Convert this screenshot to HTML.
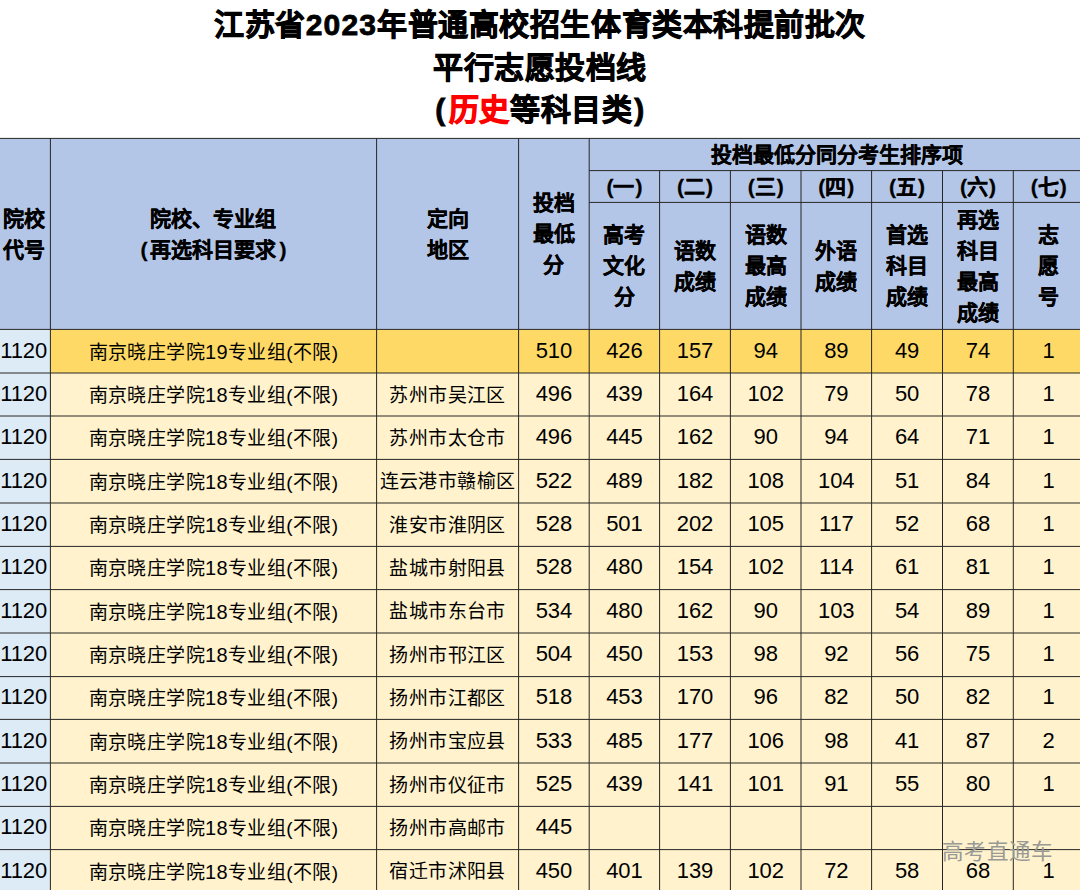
<!DOCTYPE html>
<html lang="zh-CN"><head><meta charset="utf-8">
<style>
html,body{margin:0;padding:0;}
body{width:1080px;height:890px;overflow:hidden;position:relative;background:#fff;font-family:"Liberation Sans",sans-serif;color:#000;}
svg.g{position:absolute;left:0;top:0;}
.t{position:absolute;left:0;width:1080px;text-align:center;font-weight:bold;-webkit-text-stroke:0.8px currentColor;font-size:30px;letter-spacing:0.55px;line-height:42px;white-space:nowrap;}
.h,.d{position:absolute;display:flex;align-items:center;justify-content:center;text-align:center;white-space:nowrap;}
.h{font-weight:bold;-webkit-text-stroke:0.3px currentColor;font-size:21px;line-height:31px;}
.d{font-size:19px;letter-spacing:0.4px;line-height:24px;}
.d{box-sizing:border-box;padding-top:2px;}
.n{font-size:22px;letter-spacing:-0.1px;padding-top:0;padding-bottom:1px;}
.dg{font-size:20px;}
.r{color:#FF0000;-webkit-text-stroke:1px #FF0000;}
.wm{position:absolute;left:942px;top:838px;font-size:21.5px;letter-spacing:0.3px;line-height:28px;color:#999996;white-space:nowrap;}
</style></head><body>
<svg class="g" width="1080" height="890" viewBox="0 0 1080 890"><rect x="-3" y="138.4" width="1090" height="190.99999999999997" fill="#B4C6E7"/><rect x="-3" y="329.4" width="53.4" height="43.60000000000002" fill="#DDEBF7"/><rect x="50.4" y="329.4" width="1039.6" height="43.60000000000002" fill="#FFD966"/><rect x="-3" y="373" width="53.4" height="43" fill="#DDEBF7"/><rect x="50.4" y="373" width="1039.6" height="43" fill="#FFF2CC"/><rect x="-3" y="416" width="53.4" height="43.39999999999998" fill="#DDEBF7"/><rect x="50.4" y="416" width="1039.6" height="43.39999999999998" fill="#FFF2CC"/><rect x="-3" y="459.4" width="53.4" height="43.60000000000002" fill="#DDEBF7"/><rect x="50.4" y="459.4" width="1039.6" height="43.60000000000002" fill="#FFF2CC"/><rect x="-3" y="503" width="53.4" height="43.39999999999998" fill="#DDEBF7"/><rect x="50.4" y="503" width="1039.6" height="43.39999999999998" fill="#FFF2CC"/><rect x="-3" y="546.4" width="53.4" height="43.200000000000045" fill="#DDEBF7"/><rect x="50.4" y="546.4" width="1039.6" height="43.200000000000045" fill="#FFF2CC"/><rect x="-3" y="589.6" width="53.4" height="43.39999999999998" fill="#DDEBF7"/><rect x="50.4" y="589.6" width="1039.6" height="43.39999999999998" fill="#FFF2CC"/><rect x="-3" y="633" width="53.4" height="43.60000000000002" fill="#DDEBF7"/><rect x="50.4" y="633" width="1039.6" height="43.60000000000002" fill="#FFF2CC"/><rect x="-3" y="676.6" width="53.4" height="42.799999999999955" fill="#DDEBF7"/><rect x="50.4" y="676.6" width="1039.6" height="42.799999999999955" fill="#FFF2CC"/><rect x="-3" y="719.4" width="53.4" height="43.60000000000002" fill="#DDEBF7"/><rect x="50.4" y="719.4" width="1039.6" height="43.60000000000002" fill="#FFF2CC"/><rect x="-3" y="763" width="53.4" height="43.39999999999998" fill="#DDEBF7"/><rect x="50.4" y="763" width="1039.6" height="43.39999999999998" fill="#FFF2CC"/><rect x="-3" y="806.4" width="53.4" height="43.200000000000045" fill="#DDEBF7"/><rect x="50.4" y="806.4" width="1039.6" height="43.200000000000045" fill="#FFF2CC"/><rect x="-3" y="849.6" width="53.4" height="43.39999999999998" fill="#DDEBF7"/><rect x="50.4" y="849.6" width="1039.6" height="43.39999999999998" fill="#FFF2CC"/><g stroke="#262626" stroke-width="1"><line x1="-3" y1="138.4" x2="1090" y2="138.4"/><line x1="589.2" y1="170.6" x2="1090" y2="170.6"/><line x1="589.2" y1="202.4" x2="1090" y2="202.4"/><line x1="-3" y1="329.4" x2="1090" y2="329.4"/><line x1="-3" y1="373" x2="1090" y2="373"/><line x1="-3" y1="416" x2="1090" y2="416"/><line x1="-3" y1="459.4" x2="1090" y2="459.4"/><line x1="-3" y1="503" x2="1090" y2="503"/><line x1="-3" y1="546.4" x2="1090" y2="546.4"/><line x1="-3" y1="589.6" x2="1090" y2="589.6"/><line x1="-3" y1="633" x2="1090" y2="633"/><line x1="-3" y1="676.6" x2="1090" y2="676.6"/><line x1="-3" y1="719.4" x2="1090" y2="719.4"/><line x1="-3" y1="763" x2="1090" y2="763"/><line x1="-3" y1="806.4" x2="1090" y2="806.4"/><line x1="-3" y1="849.6" x2="1090" y2="849.6"/><line x1="50.4" y1="138.4" x2="50.4" y2="893"/><line x1="376.6" y1="138.4" x2="376.6" y2="893"/><line x1="518.6" y1="138.4" x2="518.6" y2="893"/><line x1="589.2" y1="138.4" x2="589.2" y2="893"/><line x1="659.6" y1="170.6" x2="659.6" y2="893"/><line x1="730.4" y1="170.6" x2="730.4" y2="893"/><line x1="801" y1="170.6" x2="801" y2="893"/><line x1="871.6" y1="170.6" x2="871.6" y2="893"/><line x1="942.5" y1="170.6" x2="942.5" y2="893"/><line x1="1013.3" y1="170.6" x2="1013.3" y2="893"/></g></svg>
<div class="t" style="top:4px">江苏省<span style="letter-spacing:1.2px">2023</span>年普通高校招生体育类本科提前批次</div>
<div class="t" style="top:47px">平行志愿投档线</div>
<div class="t" style="top:89px"><span style="margin-right:3px">(</span><span class="r">历史</span>等科目类<span style="margin-left:2px">)</span></div>
<div class="h" style="left:-3.0px;top:138.4px;width:53.4px;height:191.0px"><div>院校<br>代号</div></div><div class="h" style="left:50.4px;top:138.4px;width:326.2px;height:191.0px"><div>院校、专业组<br><span style="margin-right:3px">(</span>再选科目要求<span style="margin-left:3px">)</span></div></div><div class="h" style="left:376.6px;top:138.4px;width:142.0px;height:191.0px"><div>定向<br>地区</div></div><div class="h" style="left:518.6px;top:138.4px;width:70.6px;height:191.0px"><div>投档<br>最低<br>分</div></div><div class="h" style="left:589.2px;top:138.4px;width:494.8px;height:32.2px"><div>投档最低分同分考生排序项</div></div><div class="h" style="left:589.2px;top:170.6px;width:70.4px;height:31.8px"><div>(<span style="margin-right:1px">一</span>)</div></div><div class="h" style="left:589.2px;top:202.4px;width:70.4px;height:127.0px"><div>高考<br>文化<br>分</div></div><div class="h" style="left:659.6px;top:170.6px;width:70.8px;height:31.8px"><div>(<span style="margin-right:1px">二</span>)</div></div><div class="h" style="left:659.6px;top:202.4px;width:70.8px;height:127.0px"><div>语数<br>成绩</div></div><div class="h" style="left:730.4px;top:170.6px;width:70.6px;height:31.8px"><div>(<span style="margin-right:1px">三</span>)</div></div><div class="h" style="left:730.4px;top:202.4px;width:70.6px;height:127.0px"><div>语数<br>最高<br>成绩</div></div><div class="h" style="left:801.0px;top:170.6px;width:70.6px;height:31.8px"><div>(<span style="margin-right:1px">四</span>)</div></div><div class="h" style="left:801.0px;top:202.4px;width:70.6px;height:127.0px"><div>外语<br>成绩</div></div><div class="h" style="left:871.6px;top:170.6px;width:70.9px;height:31.8px"><div>(<span style="margin-right:1px">五</span>)</div></div><div class="h" style="left:871.6px;top:202.4px;width:70.9px;height:127.0px"><div>首选<br>科目<br>成绩</div></div><div class="h" style="left:942.5px;top:170.6px;width:70.8px;height:31.8px"><div>(<span style="margin-right:1px">六</span>)</div></div><div class="h" style="left:942.5px;top:202.4px;width:70.8px;height:127.0px"><div>再选<br>科目<br>最高<br>成绩</div></div><div class="h" style="left:1013.3px;top:170.6px;width:70.7px;height:31.8px"><div>(<span style="margin-right:1px">七</span>)</div></div><div class="h" style="left:1013.3px;top:202.4px;width:70.7px;height:127.0px"><div>志<br>愿<br>号</div></div><div class="d n" style="left:-3.0px;top:329.4px;width:53.4px;height:43.6px"><div>1120</div></div><div class="d" style="left:50.4px;top:329.4px;width:326.2px;height:43.6px"><div>南京晓庄学院<span class=dg>19</span>专业组(不限)</div></div><div class="d" style="left:376.6px;top:329.4px;width:142.0px;height:43.6px"><div></div></div><div class="d n" style="left:518.6px;top:329.4px;width:70.6px;height:43.6px"><div>510</div></div><div class="d n" style="left:589.2px;top:329.4px;width:70.4px;height:43.6px"><div>426</div></div><div class="d n" style="left:659.6px;top:329.4px;width:70.8px;height:43.6px"><div>157</div></div><div class="d n" style="left:730.4px;top:329.4px;width:70.6px;height:43.6px"><div>94</div></div><div class="d n" style="left:801.0px;top:329.4px;width:70.6px;height:43.6px"><div>89</div></div><div class="d n" style="left:871.6px;top:329.4px;width:70.9px;height:43.6px"><div>49</div></div><div class="d n" style="left:942.5px;top:329.4px;width:70.8px;height:43.6px"><div>74</div></div><div class="d n" style="left:1013.3px;top:329.4px;width:70.7px;height:43.6px"><div>1</div></div><div class="d n" style="left:-3.0px;top:373.0px;width:53.4px;height:43.0px"><div>1120</div></div><div class="d" style="left:50.4px;top:373.0px;width:326.2px;height:43.0px"><div>南京晓庄学院<span class=dg>18</span>专业组(不限)</div></div><div class="d" style="left:376.6px;top:373.0px;width:142.0px;height:43.0px"><div>苏州市吴江区</div></div><div class="d n" style="left:518.6px;top:373.0px;width:70.6px;height:43.0px"><div>496</div></div><div class="d n" style="left:589.2px;top:373.0px;width:70.4px;height:43.0px"><div>439</div></div><div class="d n" style="left:659.6px;top:373.0px;width:70.8px;height:43.0px"><div>164</div></div><div class="d n" style="left:730.4px;top:373.0px;width:70.6px;height:43.0px"><div>102</div></div><div class="d n" style="left:801.0px;top:373.0px;width:70.6px;height:43.0px"><div>79</div></div><div class="d n" style="left:871.6px;top:373.0px;width:70.9px;height:43.0px"><div>50</div></div><div class="d n" style="left:942.5px;top:373.0px;width:70.8px;height:43.0px"><div>78</div></div><div class="d n" style="left:1013.3px;top:373.0px;width:70.7px;height:43.0px"><div>1</div></div><div class="d n" style="left:-3.0px;top:416.0px;width:53.4px;height:43.4px"><div>1120</div></div><div class="d" style="left:50.4px;top:416.0px;width:326.2px;height:43.4px"><div>南京晓庄学院<span class=dg>18</span>专业组(不限)</div></div><div class="d" style="left:376.6px;top:416.0px;width:142.0px;height:43.4px"><div>苏州市太仓市</div></div><div class="d n" style="left:518.6px;top:416.0px;width:70.6px;height:43.4px"><div>496</div></div><div class="d n" style="left:589.2px;top:416.0px;width:70.4px;height:43.4px"><div>445</div></div><div class="d n" style="left:659.6px;top:416.0px;width:70.8px;height:43.4px"><div>162</div></div><div class="d n" style="left:730.4px;top:416.0px;width:70.6px;height:43.4px"><div>90</div></div><div class="d n" style="left:801.0px;top:416.0px;width:70.6px;height:43.4px"><div>94</div></div><div class="d n" style="left:871.6px;top:416.0px;width:70.9px;height:43.4px"><div>64</div></div><div class="d n" style="left:942.5px;top:416.0px;width:70.8px;height:43.4px"><div>71</div></div><div class="d n" style="left:1013.3px;top:416.0px;width:70.7px;height:43.4px"><div>1</div></div><div class="d n" style="left:-3.0px;top:459.4px;width:53.4px;height:43.6px"><div>1120</div></div><div class="d" style="left:50.4px;top:459.4px;width:326.2px;height:43.6px"><div>南京晓庄学院<span class=dg>18</span>专业组(不限)</div></div><div class="d" style="left:376.6px;top:459.4px;width:142.0px;height:43.6px"><div>连云港市赣榆区</div></div><div class="d n" style="left:518.6px;top:459.4px;width:70.6px;height:43.6px"><div>522</div></div><div class="d n" style="left:589.2px;top:459.4px;width:70.4px;height:43.6px"><div>489</div></div><div class="d n" style="left:659.6px;top:459.4px;width:70.8px;height:43.6px"><div>182</div></div><div class="d n" style="left:730.4px;top:459.4px;width:70.6px;height:43.6px"><div>108</div></div><div class="d n" style="left:801.0px;top:459.4px;width:70.6px;height:43.6px"><div>104</div></div><div class="d n" style="left:871.6px;top:459.4px;width:70.9px;height:43.6px"><div>51</div></div><div class="d n" style="left:942.5px;top:459.4px;width:70.8px;height:43.6px"><div>84</div></div><div class="d n" style="left:1013.3px;top:459.4px;width:70.7px;height:43.6px"><div>1</div></div><div class="d n" style="left:-3.0px;top:503.0px;width:53.4px;height:43.4px"><div>1120</div></div><div class="d" style="left:50.4px;top:503.0px;width:326.2px;height:43.4px"><div>南京晓庄学院<span class=dg>18</span>专业组(不限)</div></div><div class="d" style="left:376.6px;top:503.0px;width:142.0px;height:43.4px"><div>淮安市淮阴区</div></div><div class="d n" style="left:518.6px;top:503.0px;width:70.6px;height:43.4px"><div>528</div></div><div class="d n" style="left:589.2px;top:503.0px;width:70.4px;height:43.4px"><div>501</div></div><div class="d n" style="left:659.6px;top:503.0px;width:70.8px;height:43.4px"><div>202</div></div><div class="d n" style="left:730.4px;top:503.0px;width:70.6px;height:43.4px"><div>105</div></div><div class="d n" style="left:801.0px;top:503.0px;width:70.6px;height:43.4px"><div>117</div></div><div class="d n" style="left:871.6px;top:503.0px;width:70.9px;height:43.4px"><div>52</div></div><div class="d n" style="left:942.5px;top:503.0px;width:70.8px;height:43.4px"><div>68</div></div><div class="d n" style="left:1013.3px;top:503.0px;width:70.7px;height:43.4px"><div>1</div></div><div class="d n" style="left:-3.0px;top:546.4px;width:53.4px;height:43.2px"><div>1120</div></div><div class="d" style="left:50.4px;top:546.4px;width:326.2px;height:43.2px"><div>南京晓庄学院<span class=dg>18</span>专业组(不限)</div></div><div class="d" style="left:376.6px;top:546.4px;width:142.0px;height:43.2px"><div>盐城市射阳县</div></div><div class="d n" style="left:518.6px;top:546.4px;width:70.6px;height:43.2px"><div>528</div></div><div class="d n" style="left:589.2px;top:546.4px;width:70.4px;height:43.2px"><div>480</div></div><div class="d n" style="left:659.6px;top:546.4px;width:70.8px;height:43.2px"><div>154</div></div><div class="d n" style="left:730.4px;top:546.4px;width:70.6px;height:43.2px"><div>102</div></div><div class="d n" style="left:801.0px;top:546.4px;width:70.6px;height:43.2px"><div>114</div></div><div class="d n" style="left:871.6px;top:546.4px;width:70.9px;height:43.2px"><div>61</div></div><div class="d n" style="left:942.5px;top:546.4px;width:70.8px;height:43.2px"><div>81</div></div><div class="d n" style="left:1013.3px;top:546.4px;width:70.7px;height:43.2px"><div>1</div></div><div class="d n" style="left:-3.0px;top:589.6px;width:53.4px;height:43.4px"><div>1120</div></div><div class="d" style="left:50.4px;top:589.6px;width:326.2px;height:43.4px"><div>南京晓庄学院<span class=dg>18</span>专业组(不限)</div></div><div class="d" style="left:376.6px;top:589.6px;width:142.0px;height:43.4px"><div>盐城市东台市</div></div><div class="d n" style="left:518.6px;top:589.6px;width:70.6px;height:43.4px"><div>534</div></div><div class="d n" style="left:589.2px;top:589.6px;width:70.4px;height:43.4px"><div>480</div></div><div class="d n" style="left:659.6px;top:589.6px;width:70.8px;height:43.4px"><div>162</div></div><div class="d n" style="left:730.4px;top:589.6px;width:70.6px;height:43.4px"><div>90</div></div><div class="d n" style="left:801.0px;top:589.6px;width:70.6px;height:43.4px"><div>103</div></div><div class="d n" style="left:871.6px;top:589.6px;width:70.9px;height:43.4px"><div>54</div></div><div class="d n" style="left:942.5px;top:589.6px;width:70.8px;height:43.4px"><div>89</div></div><div class="d n" style="left:1013.3px;top:589.6px;width:70.7px;height:43.4px"><div>1</div></div><div class="d n" style="left:-3.0px;top:633.0px;width:53.4px;height:43.6px"><div>1120</div></div><div class="d" style="left:50.4px;top:633.0px;width:326.2px;height:43.6px"><div>南京晓庄学院<span class=dg>18</span>专业组(不限)</div></div><div class="d" style="left:376.6px;top:633.0px;width:142.0px;height:43.6px"><div>扬州市邗江区</div></div><div class="d n" style="left:518.6px;top:633.0px;width:70.6px;height:43.6px"><div>504</div></div><div class="d n" style="left:589.2px;top:633.0px;width:70.4px;height:43.6px"><div>450</div></div><div class="d n" style="left:659.6px;top:633.0px;width:70.8px;height:43.6px"><div>153</div></div><div class="d n" style="left:730.4px;top:633.0px;width:70.6px;height:43.6px"><div>98</div></div><div class="d n" style="left:801.0px;top:633.0px;width:70.6px;height:43.6px"><div>92</div></div><div class="d n" style="left:871.6px;top:633.0px;width:70.9px;height:43.6px"><div>56</div></div><div class="d n" style="left:942.5px;top:633.0px;width:70.8px;height:43.6px"><div>75</div></div><div class="d n" style="left:1013.3px;top:633.0px;width:70.7px;height:43.6px"><div>1</div></div><div class="d n" style="left:-3.0px;top:676.6px;width:53.4px;height:42.8px"><div>1120</div></div><div class="d" style="left:50.4px;top:676.6px;width:326.2px;height:42.8px"><div>南京晓庄学院<span class=dg>18</span>专业组(不限)</div></div><div class="d" style="left:376.6px;top:676.6px;width:142.0px;height:42.8px"><div>扬州市江都区</div></div><div class="d n" style="left:518.6px;top:676.6px;width:70.6px;height:42.8px"><div>518</div></div><div class="d n" style="left:589.2px;top:676.6px;width:70.4px;height:42.8px"><div>453</div></div><div class="d n" style="left:659.6px;top:676.6px;width:70.8px;height:42.8px"><div>170</div></div><div class="d n" style="left:730.4px;top:676.6px;width:70.6px;height:42.8px"><div>96</div></div><div class="d n" style="left:801.0px;top:676.6px;width:70.6px;height:42.8px"><div>82</div></div><div class="d n" style="left:871.6px;top:676.6px;width:70.9px;height:42.8px"><div>50</div></div><div class="d n" style="left:942.5px;top:676.6px;width:70.8px;height:42.8px"><div>82</div></div><div class="d n" style="left:1013.3px;top:676.6px;width:70.7px;height:42.8px"><div>1</div></div><div class="d n" style="left:-3.0px;top:719.4px;width:53.4px;height:43.6px"><div>1120</div></div><div class="d" style="left:50.4px;top:719.4px;width:326.2px;height:43.6px"><div>南京晓庄学院<span class=dg>18</span>专业组(不限)</div></div><div class="d" style="left:376.6px;top:719.4px;width:142.0px;height:43.6px"><div>扬州市宝应县</div></div><div class="d n" style="left:518.6px;top:719.4px;width:70.6px;height:43.6px"><div>533</div></div><div class="d n" style="left:589.2px;top:719.4px;width:70.4px;height:43.6px"><div>485</div></div><div class="d n" style="left:659.6px;top:719.4px;width:70.8px;height:43.6px"><div>177</div></div><div class="d n" style="left:730.4px;top:719.4px;width:70.6px;height:43.6px"><div>106</div></div><div class="d n" style="left:801.0px;top:719.4px;width:70.6px;height:43.6px"><div>98</div></div><div class="d n" style="left:871.6px;top:719.4px;width:70.9px;height:43.6px"><div>41</div></div><div class="d n" style="left:942.5px;top:719.4px;width:70.8px;height:43.6px"><div>87</div></div><div class="d n" style="left:1013.3px;top:719.4px;width:70.7px;height:43.6px"><div>2</div></div><div class="d n" style="left:-3.0px;top:763.0px;width:53.4px;height:43.4px"><div>1120</div></div><div class="d" style="left:50.4px;top:763.0px;width:326.2px;height:43.4px"><div>南京晓庄学院<span class=dg>18</span>专业组(不限)</div></div><div class="d" style="left:376.6px;top:763.0px;width:142.0px;height:43.4px"><div>扬州市仪征市</div></div><div class="d n" style="left:518.6px;top:763.0px;width:70.6px;height:43.4px"><div>525</div></div><div class="d n" style="left:589.2px;top:763.0px;width:70.4px;height:43.4px"><div>439</div></div><div class="d n" style="left:659.6px;top:763.0px;width:70.8px;height:43.4px"><div>141</div></div><div class="d n" style="left:730.4px;top:763.0px;width:70.6px;height:43.4px"><div>101</div></div><div class="d n" style="left:801.0px;top:763.0px;width:70.6px;height:43.4px"><div>91</div></div><div class="d n" style="left:871.6px;top:763.0px;width:70.9px;height:43.4px"><div>55</div></div><div class="d n" style="left:942.5px;top:763.0px;width:70.8px;height:43.4px"><div>80</div></div><div class="d n" style="left:1013.3px;top:763.0px;width:70.7px;height:43.4px"><div>1</div></div><div class="d n" style="left:-3.0px;top:806.4px;width:53.4px;height:43.2px"><div>1120</div></div><div class="d" style="left:50.4px;top:806.4px;width:326.2px;height:43.2px"><div>南京晓庄学院<span class=dg>18</span>专业组(不限)</div></div><div class="d" style="left:376.6px;top:806.4px;width:142.0px;height:43.2px"><div>扬州市高邮市</div></div><div class="d n" style="left:518.6px;top:806.4px;width:70.6px;height:43.2px"><div>445</div></div><div class="d n" style="left:589.2px;top:806.4px;width:70.4px;height:43.2px"><div></div></div><div class="d n" style="left:659.6px;top:806.4px;width:70.8px;height:43.2px"><div></div></div><div class="d n" style="left:730.4px;top:806.4px;width:70.6px;height:43.2px"><div></div></div><div class="d n" style="left:801.0px;top:806.4px;width:70.6px;height:43.2px"><div></div></div><div class="d n" style="left:871.6px;top:806.4px;width:70.9px;height:43.2px"><div></div></div><div class="d n" style="left:942.5px;top:806.4px;width:70.8px;height:43.2px"><div></div></div><div class="d n" style="left:1013.3px;top:806.4px;width:70.7px;height:43.2px"><div></div></div><div class="d n" style="left:-3.0px;top:849.6px;width:53.4px;height:43.4px"><div>1120</div></div><div class="d" style="left:50.4px;top:849.6px;width:326.2px;height:43.4px"><div>南京晓庄学院<span class=dg>18</span>专业组(不限)</div></div><div class="d" style="left:376.6px;top:849.6px;width:142.0px;height:43.4px"><div>宿迁市沭阳县</div></div><div class="d n" style="left:518.6px;top:849.6px;width:70.6px;height:43.4px"><div>450</div></div><div class="d n" style="left:589.2px;top:849.6px;width:70.4px;height:43.4px"><div>401</div></div><div class="d n" style="left:659.6px;top:849.6px;width:70.8px;height:43.4px"><div>139</div></div><div class="d n" style="left:730.4px;top:849.6px;width:70.6px;height:43.4px"><div>102</div></div><div class="d n" style="left:801.0px;top:849.6px;width:70.6px;height:43.4px"><div>72</div></div><div class="d n" style="left:871.6px;top:849.6px;width:70.9px;height:43.4px"><div>58</div></div><div class="d n" style="left:942.5px;top:849.6px;width:70.8px;height:43.4px"><div>68</div></div><div class="d n" style="left:1013.3px;top:849.6px;width:70.7px;height:43.4px"><div>1</div></div>
<div class="wm">高考直通车</div>
</body></html>
